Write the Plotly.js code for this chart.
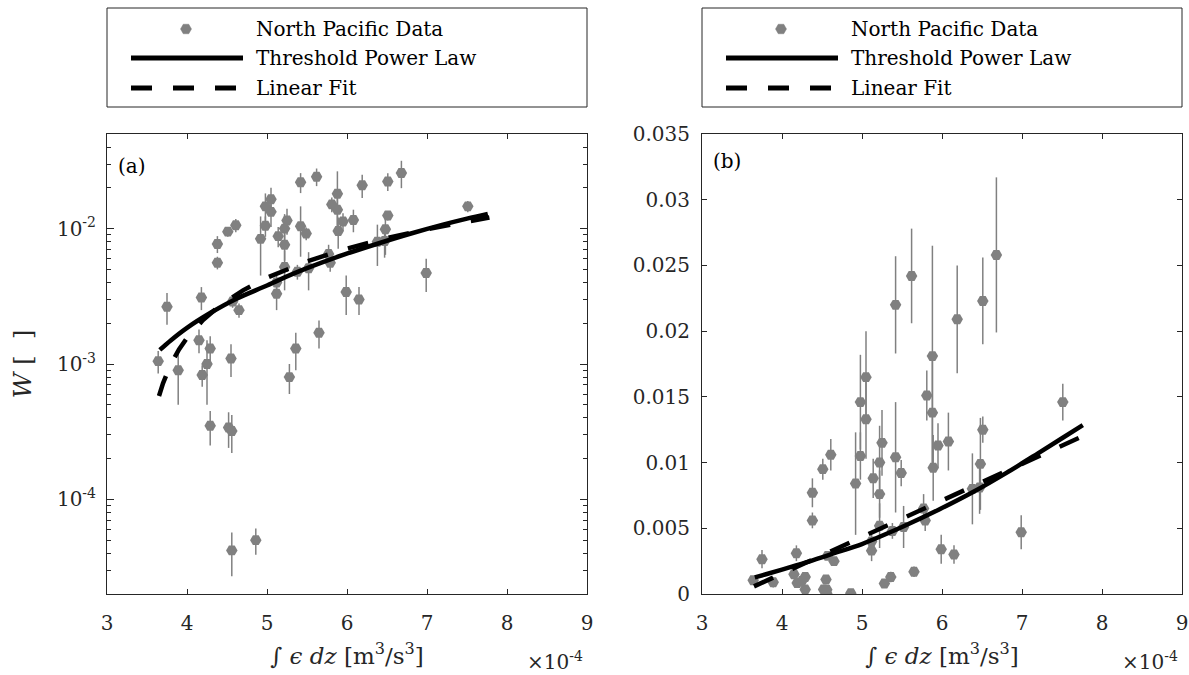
<!DOCTYPE html>
<html>
<head>
<meta charset="utf-8">
<script src="https://cdn.plot.ly/plotly-3.0.1.min.js"></script>
<style>html,body{margin:0;padding:0;background:#fff;}#chart{width:1189px;height:675px;}</style>
</head>
<body>
<div id="chart"></div>
<script>
// integrated dissipation, in units of 1e-4 m^3/s^3
const intEps = [3.64,3.75,3.89,4.18,4.15,4.19,4.29,4.25,4.29,4.38,4.38,4.51,4.55,4.52,4.56,4.56,4.61,4.57,4.65,4.86,
                4.92,4.98,4.98,5.05,5.05,5.12,5.12,5.14,5.22,5.22,5.25,5.22,5.28,5.36,5.38,5.42,5.42,5.49,5.52,5.62,
                5.65,5.77,5.79,5.81,5.88,5.88,5.89,5.95,5.99,6.08,6.15,6.19,6.38,6.47,6.48,6.51,6.51,6.68,6.99,7.51];
const W = [0.00105,0.00265,0.0009,0.0031,0.0015,0.00083,0.0013,0.0010,0.00035,0.0056,0.0077,0.0095,0.0011,0.00034,0.00032,0.000042,0.0106,0.0029,0.0025,0.00005,
           0.0084,0.0105,0.0146,0.0165,0.0133,0.0033,0.0040,0.0088,0.0100,0.0076,0.0115,0.0052,0.0008,0.0013,0.0048,0.0220,0.0104,0.0092,0.0051,0.0242,
           0.0017,0.0065,0.0056,0.0151,0.0181,0.0138,0.0096,0.0113,0.0034,0.0116,0.0030,0.0209,0.0080,0.0081,0.0099,0.0125,0.0223,0.0258,0.0047,0.0146];
const Werr = [0.0002,0.0007,0.0004,0.0006,0.0003,0.00015,0.0003,0.0005,0.0001,0.0006,0.0011,0.0008,0.0003,0.0001,0.0001,0.000015,0.0012,0.0003,0.0003,0.000011,
              0.0039,0.0018,0.0036,0.0035,0.003,0.0008,0.0005,0.0015,0.0028,0.0018,0.0025,0.0017,0.0002,0.0004,0.0006,0.0037,0.0042,0.001,0.0016,0.0036,
              0.0004,0.0011,0.0008,0.0019,0.0084,0.004,0.0025,0.0017,0.0011,0.0022,0.0007,0.0041,0.0027,0.002,0.0035,0.001,0.0033,0.0059,0.0013,0.0014];
// Threshold power law fit
const powX = [3.66,3.80,4.00,4.30,4.60,5.00,5.14,5.50,5.97,6.40,6.80,7.20,7.50,7.76];
const powW = [0.00127,0.00150,0.00185,0.00240,0.00300,0.00380,0.00415,0.00510,0.00645,0.00780,0.00920,0.01070,0.01185,0.01285];
// Linear fit
const linX = [3.65,3.70,3.80,3.90,4.00,4.20,4.40,4.70,5.00,5.50,6.00,6.50,7.00,7.50,7.78];
const linW = [0.00058,0.00072,0.00100,0.00128,0.00156,0.00211,0.00267,0.00350,0.00434,0.00573,0.00712,0.00851,0.00990,0.01129,0.01207];

const xTicks = [3,4,5,6,7,8,9];
const logMajor = [1e-4,1e-3,1e-2];
const logMajorText = ['10<sup>-4</sup>','10<sup>-3</sup>','10<sup>-2</sup>'];
const legendNames = ['North Pacific Data','Threshold Power Law','Linear Fit'];
const panelLabels = ['(a)','(b)'];

const FW = 1189, FH = 675;
const px = x => x / FW;
const py = y => 1 - y / FH;
const AX = '#262626';
const GRAY = '#808080';
const serif = 'DejaVu Serif';

let logMinor = [];
[1e-5,1e-4,1e-3,1e-2].forEach(d => { for (let k = 2; k <= 9; k++) { const v = k*d; if (v >= 2e-5 && v <= 5e-2) logMinor.push(v); } });

function traces(xa, ya) {
  return [
    {x: intEps, y: W, type: 'scatter', mode: 'markers', name: legendNames[0], xaxis: xa, yaxis: ya,
     marker: {symbol: 'hexagon2', size: 11.5, color: GRAY},
     error_y: {type: 'data', array: Werr, visible: true, color: GRAY, thickness: 1.5, width: 0}},
    {x: powX, y: powW, type: 'scatter', mode: 'lines', name: legendNames[1], xaxis: xa, yaxis: ya,
     line: {color: '#000', width: 4.5, shape: 'spline'}},
    {x: linX, y: linW, type: 'scatter', mode: 'lines', name: legendNames[2], xaxis: xa, yaxis: ya,
     line: {color: '#000', width: 4.5, dash: '21px,21px'}}
  ];
}

const data = traces('x','y').concat(traces('x2','y2'));

const common = {
  showline: true, linecolor: AX, linewidth: 1, mirror: 'allticks',
  ticks: 'inside', ticklen: 5, tickwidth: 1, tickcolor: AX,
  showgrid: false, zeroline: false,
  tickfont: {family: serif, size: 20, color: AX}
};
const xTitle = {text: '\u222B <i>\u03F5 dz</i> [m<sup>3</sup>/s<sup>3</sup>]', font: {family: serif, size: 23, color: AX}, standoff: 13};

const plots = [[107,587],[702,1182]];
const yTop = 134, yBot = 594;

const layout = {
  width: FW, height: FH,
  margin: {l: 0, r: 0, t: 0, b: 0},
  paper_bgcolor: '#fff', plot_bgcolor: '#fff',
  showlegend: false,
  font: {family: serif, size: 20, color: AX},
  xaxis: Object.assign({}, common, {domain: [px(plots[0][0]), px(plots[0][1])], range: [3,9], tickvals: xTicks, anchor: 'y', title: xTitle, ticklabelstandoff: 11}),
  yaxis: Object.assign({}, common, {domain: [py(yBot), py(yTop)], type: 'log', range: [Math.log10(2e-5), Math.log10(5e-2)],
          tickvals: logMajor, ticktext: logMajorText, ticklen: 7, anchor: 'x', ticklabelstandoff: 6,
          minor: {tickvals: logMinor, ticks: 'inside', ticklen: 4, tickcolor: AX, tickwidth: 1},
          title: {text: '<i>W</i> [\u00a0\u00a0]', font: {family: serif, size: 25, color: AX}, standoff: 18}}),
  xaxis2: Object.assign({}, common, {domain: [px(plots[1][0]), px(plots[1][1])], range: [3,9], tickvals: xTicks, anchor: 'y2', title: xTitle, ticklabelstandoff: 11}),
  yaxis2: Object.assign({}, common, {domain: [py(yBot), py(yTop)], range: [0, 0.035], dtick: 0.005, tick0: 0, anchor: 'x2', ticklabelstandoff: 7}),
  shapes: [],
  annotations: []
};

const rowY = [29, 58, 88];
plots.forEach(([l, r], i) => {
  layout.shapes.push({type: 'rect', xref: 'paper', yref: 'paper', x0: px(l), x1: px(r), y0: py(8), y1: py(107),
                      line: {color: AX, width: 1}, fillcolor: 'rgba(0,0,0,0)'});
  const cx = l + 79, cy = rowY[0], rr = 5.5;
  const pts = [[rr,0],[rr/2,-0.866*rr],[-rr/2,-0.866*rr],[-rr,0],[-rr/2,0.866*rr],[rr/2,0.866*rr]];
  const path = 'M' + pts.map(p => px(cx+p[0]) + ',' + py(cy+p[1])).join(' L') + ' Z';
  layout.shapes.push({type: 'path', xref: 'paper', yref: 'paper', path: path, fillcolor: GRAY, line: {color: GRAY, width: 0.5}});
  layout.shapes.push({type: 'line', xref: 'paper', yref: 'paper', x0: px(l+24), x1: px(l+136), y0: py(rowY[1]), y1: py(rowY[1]),
                      line: {color: '#000', width: 5}});
  layout.shapes.push({type: 'line', xref: 'paper', yref: 'paper', x0: px(l+24), x1: px(l+130), y0: py(rowY[2]), y1: py(rowY[2]),
                      line: {color: '#000', width: 5, dash: '21px,21px'}});
  legendNames.forEach((nm, k) => {
    layout.annotations.push({xref: 'paper', yref: 'paper', x: px(l+147), y: py(rowY[k]), xanchor: 'left', yanchor: 'middle',
                             text: nm, showarrow: false, font: {family: serif, size: 20, color: '#000'}});
  });
  layout.annotations.push({xref: 'paper', yref: 'paper', x: px(l+9), y: py(i === 0 ? 166 : 161), xanchor: 'left', yanchor: 'middle',
                           text: panelLabels[i], showarrow: false, font: {family: serif, size: 20, color: '#000'}});
  layout.annotations.push({xref: 'paper', yref: 'paper', x: px(r - 32), y: py(661), xanchor: 'center', yanchor: 'middle',
                           text: '\u00D710<sup>-4</sup>', showarrow: false, font: {family: serif, size: 20, color: AX}});
});

Plotly.newPlot('chart', data, layout, {staticPlot: true});
</script>
</body>
</html>
